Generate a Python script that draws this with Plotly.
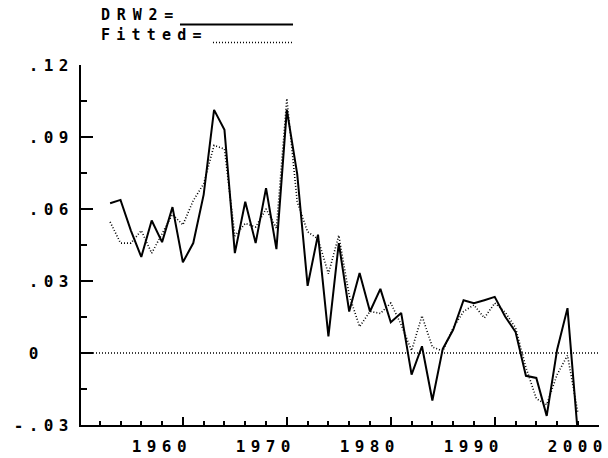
import plotly.graph_objects as go

# Annual observations and fitted values
years = list(range(1953, 1999))
drw2 = [0.0624, 0.0638, 0.0510, 0.0400, 0.0552, 0.0462, 0.0608, 0.0378,
        0.0458, 0.0660, 0.1013, 0.0930, 0.0416, 0.0630, 0.0458, 0.0687,
        0.0433, 0.1013, 0.0745, 0.0280, 0.0493, 0.0069, 0.0458, 0.0173,
        0.0333, 0.0173, 0.0267, 0.0128, 0.0167, -0.0090, 0.0028, -0.0198,
        0.0017, 0.0097, 0.0220, 0.0207, 0.0220, 0.0234, 0.0152, 0.0088,
        -0.0095, -0.0104, -0.0262, 0.0014, 0.0187, -0.0340]
fitted = [0.0546, 0.0458, 0.0458, 0.0510, 0.0416, 0.0500, 0.0578, 0.0534,
          0.0635, 0.0705, 0.0865, 0.0850, 0.0488, 0.0540, 0.0525, 0.0600,
          0.0520, 0.1060, 0.0630, 0.0505, 0.0475, 0.0330, 0.0490, 0.0240,
          0.0110, 0.0173, 0.0165, 0.0208, 0.0118, 0.0010, 0.0155, 0.0025,
          0.0008, 0.0105, 0.0173, 0.0200, 0.0146, 0.0208, 0.0170, 0.0105,
          -0.0060, -0.0190, -0.0215, -0.0090, -0.0010, -0.0250]

x_major = [1960, 1970, 1980, 1990, 2000]
x_labels = ["1960", "1970", "1980", "1990", "2000"]
y_major = [0.12, 0.09, 0.06, 0.03, 0.0, -0.03]
y_labels = [".12", ".09", ".06", ".03", "0\u00a0\u00a0", "-.03"]
y_minor = [0.105, 0.075, 0.045, 0.015, -0.015]

MONO = "DejaVu Sans Mono"


def spaced(s, gap=5.4):
    return f'<b><span style="letter-spacing:{gap}px">{s}</span></b>'


fig = go.Figure()
fig.add_trace(go.Scatter(x=years, y=fitted, mode="lines", name="Fitted",
                         line=dict(color="black", width=1.6, dash="1px,2px")))
fig.add_trace(go.Scatter(x=years, y=drw2, mode="lines", name="DRW2",
                         line=dict(color="black", width=2)))

fig.add_hline(y=0, line=dict(color="black", width=1.3, dash="1px,2px"))

tick_font = dict(family=MONO, size=16, color="black", weight="bold")

fig.update_xaxes(
    range=[1950.2, 2000.03], showgrid=False, zeroline=False, automargin=False,
    showline=True, linecolor="black", linewidth=2,
    ticks="inside", tickvals=x_major, ticktext=[spaced(t) for t in x_labels],
    ticklen=8, tickwidth=2, tickcolor="black",
    ticklabelshift=-21, ticklabelstandoff=6, tickfont=tick_font,
    minor=dict(ticks="inside", tick0=1950, dtick=2, ticklen=4,
               tickwidth=2, tickcolor="black"),
)
fig.update_yaxes(
    range=[-0.03, 0.12], showgrid=False, zeroline=False, automargin=False,
    showline=True, linecolor="black", linewidth=2,
    ticks="inside", tickvals=y_major, ticktext=[spaced(t) for t in y_labels],
    ticklen=12, tickwidth=2, tickcolor="black",
    ticklabelstandoff=2, tickfont=tick_font,
    minor=dict(ticks="inside", tickvals=y_minor, ticklen=6,
               tickwidth=2, tickcolor="black"),
)

# Legend: two labels, each followed by a line sample
fig.add_annotation(text=spaced("DRW2=", 6.8) + "<br>" + spaced("Fitted=", 6.2),
                   xref="paper", yref="paper",
                   x=0.034, y=1.11, xanchor="left", yanchor="middle",
                   align="left", showarrow=False,
                   font=dict(family=MONO, size=15, color="black", weight="bold"))
fig.add_shape(type="line", xref="paper", yref="paper",
              x0=0.1911, x1=0.4093, y0=1.1125, y1=1.1125,
              line=dict(color="black", width=2))
fig.add_shape(type="line", xref="paper", yref="paper",
              x0=0.2548, x1=0.4093, y0=1.0625, y1=1.0625,
              line=dict(color="black", width=1.3, dash="1px,2px"))

fig.update_layout(
    width=608, height=458,
    margin=dict(l=81, r=9, t=65, b=33),
    paper_bgcolor="white", plot_bgcolor="white",
    showlegend=False,
)

fig.write_html("out.html")
